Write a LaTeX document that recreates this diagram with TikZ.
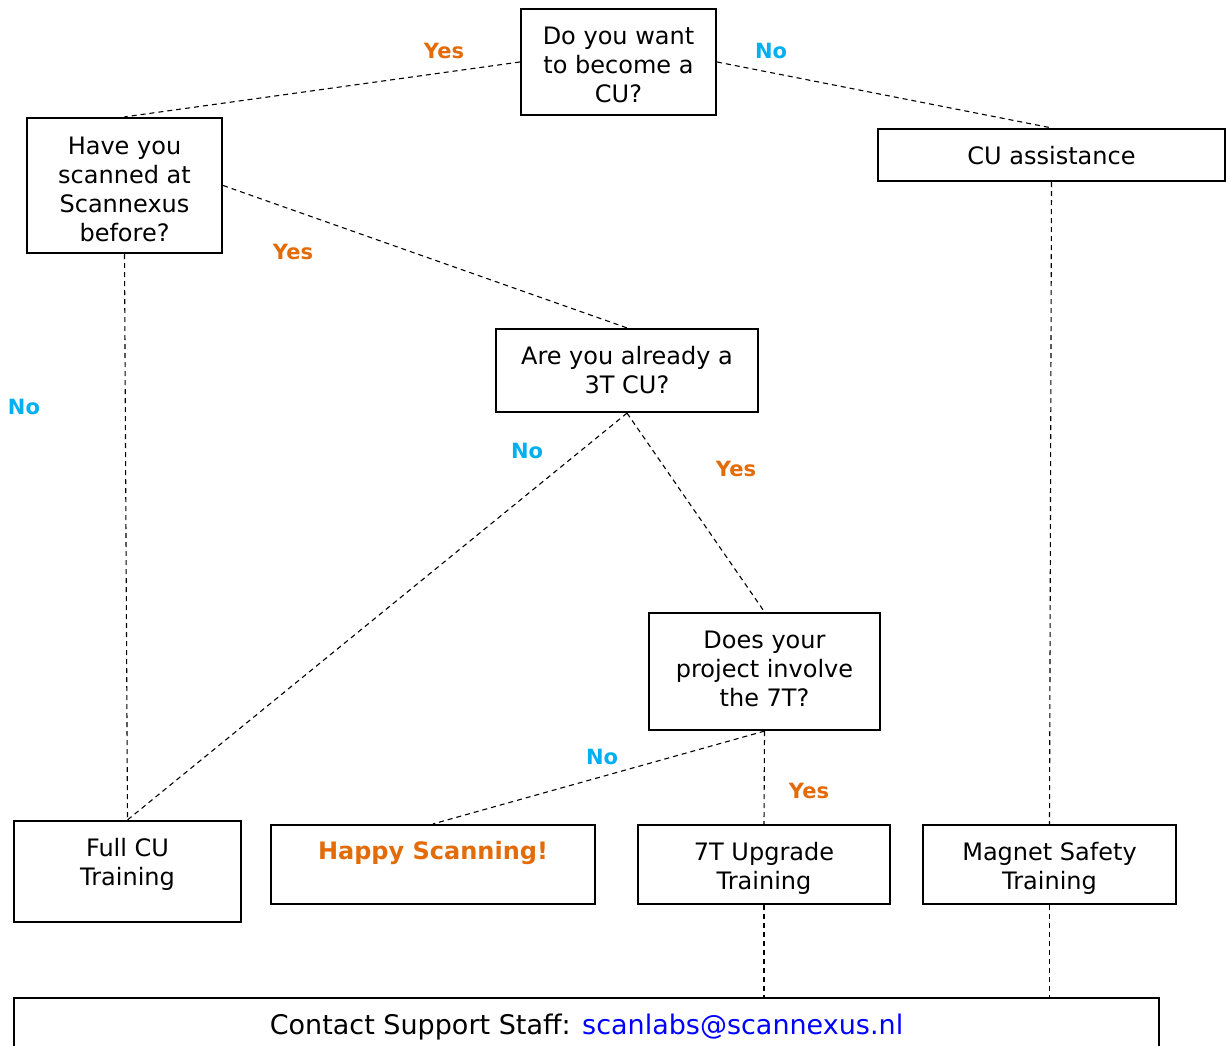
\documentclass[tikz,border=0pt]{standalone}
\usepackage{fontspec}
\setmainfont{DejaVu Sans}
\definecolor{yescol}{HTML}{E36C09}
\definecolor{nocol}{HTML}{00B0F0}
\definecolor{linkcol}{HTML}{0000FF}
\tikzset{
  box/.style={draw=black, line width=2.2pt, inner sep=0pt},
  txt/.style={inner sep=0pt, align=center, font=\fontsize{24}{29}\selectfont},
  conn/.style={draw=black, line width=1.1pt, dash pattern=on 5pt off 4pt},
  yeslab/.style={inner sep=0pt, text=yescol, font=\fontsize{21}{25}\selectfont\bfseries},
  nolab/.style={inner sep=0pt, text=nocol, font=\fontsize{21}{25}\selectfont\bfseries},
}
\begin{document}
\begin{tikzpicture}[x=1pt,y=-1pt]
\useasboundingbox (0,0) rectangle (1226,1046);
\clip (0,0) rectangle (1226,1046);
\fill[white] (0,0) rectangle (1226,1046);

% boxes
\node[box, minimum width=195pt, minimum height=106pt] (q1) at (618.5,62) {};
\node[txt] (q1t) at (618.5,65) {Do you want\\to become a\\CU?};
\node[box, minimum width=195pt, minimum height=135pt] (q2) at (124.5,185.5) {};
\node[txt] (q2t) at (124.5,189) {Have you\\scanned at\\Scannexus\\before?};
\node[box, minimum width=347pt, minimum height=52pt] (cua) at (1051.5,155) {};
\node[txt] (cuat) at (1051.5,156) {CU assistance};
\node[box, minimum width=262pt, minimum height=83pt] (q3) at (627,370.5) {};
\node[txt] (q3t) at (627,370.5) {Are you already a\\3T CU?};
\node[box, minimum width=231pt, minimum height=117pt] (q4) at (764.5,671.5) {};
\node[txt] (q4t) at (764.5,669) {Does your\\project involve\\the 7T?};
\node[box, minimum width=227pt, minimum height=101pt] (full) at (127.5,871.5) {};
\node[txt] (fullt) at (127.5,864) {Full CU\\Training};
\node[box, minimum width=324pt, minimum height=79pt] (happy) at (433,864.5) {};
\node[txt, text=yescol, font=\fontsize{24}{29}\selectfont\bfseries] (happyt) at (433,853) {Happy Scanning!};
\node[box, minimum width=252pt, minimum height=79pt] (t7) at (764,864.5) {};
\node[txt] (t7t) at (764,868) {7T Upgrade\\Training};
\node[box, minimum width=253pt, minimum height=79pt] (mag) at (1049.5,864.5) {};
\node[txt] (magt) at (1049.5,868) {Magnet Safety\\Training};
\node[box, minimum width=1145pt, minimum height=58pt] (contact) at (586.5,1027) {};
\node[txt, font=\fontsize{27}{32}\selectfont] (contactt) at (586.5,1027) {Contact Support Staff: \textcolor{linkcol}{scanlabs@scannexus.nl}};

% connectors
\draw[conn] (q1.west) -- (q2.north);
\draw[conn] (q1.east) -- (cua.north);
\draw[conn] (q2.east) -- (q3.north);
\draw[conn] (q2.south) -- (full.north);
\draw[conn] (q3.south) -- (full.north);
\draw[conn] (q3.south) -- (q4.north);
\draw[conn] (q4.south) -- (happy.north);
\draw[conn] (q4.south) -- (t7.north);
\draw[conn] (cua.south) -- (mag.north);
\coordinate (c7) at (t7.south |- contact.north);
\coordinate (cm) at (mag.south |- contact.north);
\draw[conn] (t7.south) -- (c7);
\draw[conn] (mag.south) -- (cm);

% labels
\node[yeslab] (l1) at (444,51) {Yes};
\node[nolab] (l2) at (771,51) {No};
\node[yeslab] (l3) at (293,252) {Yes};
\node[nolab] (l4) at (24,407) {No};
\node[nolab] (l5) at (527,451) {No};
\node[yeslab] (l6) at (736,469) {Yes};
\node[nolab] (l7) at (602,757) {No};
\node[yeslab] (l8) at (809,791) {Yes};
\end{tikzpicture}
\end{document}
